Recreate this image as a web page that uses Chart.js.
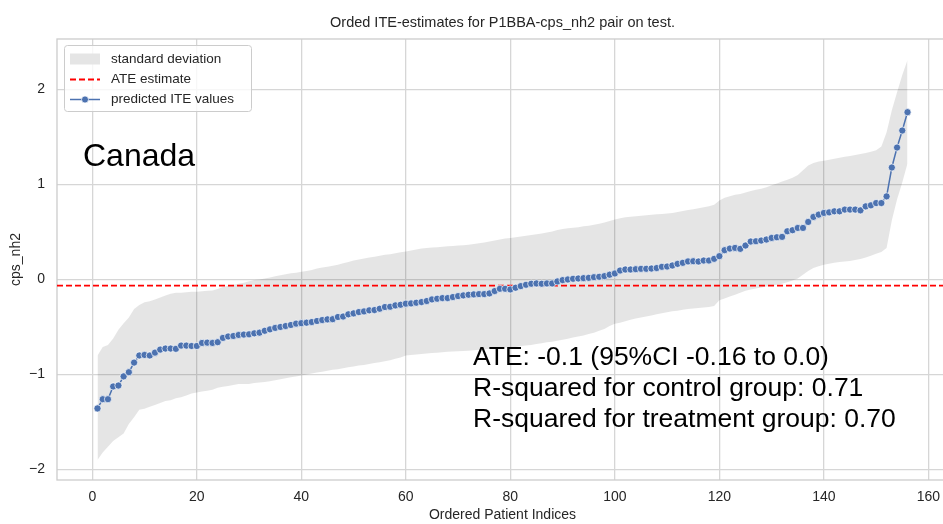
<!DOCTYPE html>
<html>
<head>
<meta charset="utf-8">
<script src="https://cdn.jsdelivr.net/npm/chart.js@4.4.1/dist/chart.umd.min.js"></script>
<style>
html,body{margin:0;padding:0;background:#fff;overflow:hidden;width:943px;height:524px;}
#wrap{position:relative;width:943px;height:524px;overflow:hidden;}
#c{position:absolute;left:0;top:0;}
.note{position:absolute;font-family:'Liberation Sans',Arial,sans-serif;color:#000;white-space:nowrap;line-height:1;}
#title{position:absolute;left:0;width:1005px;text-align:center;top:15px;font-family:'Liberation Sans',Arial,sans-serif;font-size:14.5px;line-height:1;color:#262626;white-space:nowrap;}
</style>
</head>
<body>
<div id="wrap">
<canvas id="c" width="960" height="524"></canvas>
<div id="title">Orded ITE-estimates for P1BBA-cps_nh2 pair on test.</div>
<div class="note" style="left:83px;top:139px;font-size:32px;">Canada</div>
<div class="note" style="left:473px;top:343px;font-size:26.5px;">ATE: -0.1 (95%CI -0.16 to 0.0)</div>
<div class="note" style="left:473px;top:374px;font-size:26.5px;">R-squared for control group: 0.71</div>
<div class="note" style="left:473px;top:405px;font-size:26.5px;">R-squared for treatment group: 0.70</div>
</div>
<script>
// ---- data ----
const iteValues = [
-1.357,-1.26,-1.26,-1.126,-1.116,-1.02,-0.976,-0.875,-0.80,-0.794,
-0.80,-0.77,-0.738,-0.727,-0.727,-0.73,-0.696,-0.696,-0.70,-0.70,
-0.668,-0.665,-0.668,-0.66,-0.615,-0.60,-0.595,-0.584,-0.58,-0.577,
-0.567,-0.56,-0.54,-0.525,-0.51,-0.50,-0.49,-0.479,-0.465,-0.46,
-0.455,-0.448,-0.437,-0.427,-0.42,-0.418,-0.395,-0.39,-0.367,-0.357,
-0.343,-0.336,-0.325,-0.322,-0.308,-0.29,-0.287,-0.273,-0.266,-0.255,
-0.252,-0.245,-0.238,-0.227,-0.21,-0.203,-0.196,-0.196,-0.185,-0.175,
-0.168,-0.161,-0.157,-0.154,-0.154,-0.147,-0.122,-0.098,-0.098,-0.105,
-0.087,-0.07,-0.056,-0.045,-0.042,-0.045,-0.042,-0.042,-0.021,-0.007,
0.0,0.007,0.01,0.014,0.017,0.024,0.028,0.035,0.05,0.063,
0.094,0.105,0.105,0.108,0.112,0.112,0.115,0.12,0.133,0.136,
0.147,0.164,0.175,0.19,0.192,0.189,0.199,0.199,0.217,0.245,
0.308,0.325,0.332,0.322,0.357,0.399,0.402,0.409,0.42,0.437,
0.444,0.448,0.507,0.518,0.542,0.542,0.605,0.658,0.682,0.70,
0.706,0.717,0.717,0.735,0.735,0.735,0.727,0.769,0.78,0.804,
0.804,0.874,1.178,1.388,1.567,1.76
];
const sdUpper = [
-0.80,-0.71,-0.69,-0.62,-0.53,-0.46,-0.40,-0.31,-0.27,-0.24,
-0.23,-0.21,-0.19,-0.17,-0.15,-0.14,-0.14,-0.135,-0.13,-0.13,
-0.125,-0.12,-0.115,-0.10,-0.08,-0.065,-0.055,-0.045,-0.035,-0.02,
-0.007,0.0,0.01,0.02,0.035,0.045,0.055,0.065,0.07,0.08,
0.09,0.10,0.115,0.125,0.135,0.145,0.155,0.17,0.185,0.20,
0.21,0.22,0.23,0.24,0.25,0.26,0.265,0.275,0.285,0.295,
0.305,0.315,0.325,0.33,0.335,0.34,0.345,0.35,0.352,0.357,
0.36,0.365,0.372,0.38,0.39,0.40,0.41,0.42,0.43,0.437,
0.445,0.452,0.46,0.468,0.475,0.483,0.495,0.505,0.52,0.53,
0.54,0.545,0.55,0.56,0.565,0.575,0.585,0.60,0.615,0.63,
0.645,0.655,0.66,0.665,0.67,0.675,0.68,0.685,0.69,0.695,
0.70,0.71,0.72,0.73,0.74,0.75,0.76,0.77,0.785,0.83,
0.86,0.875,0.89,0.90,0.915,0.93,0.945,0.955,0.97,0.99,
1.01,1.03,1.05,1.07,1.10,1.15,1.20,1.225,1.24,1.25,
1.26,1.27,1.28,1.29,1.30,1.31,1.32,1.33,1.345,1.36,
1.40,1.55,1.78,1.97,2.15,2.31
];
const sdLower = [
-1.90,-1.82,-1.76,-1.70,-1.66,-1.62,-1.52,-1.45,-1.37,-1.36,
-1.34,-1.32,-1.30,-1.28,-1.27,-1.25,-1.24,-1.22,-1.20,-1.19,
-1.18,-1.17,-1.16,-1.14,-1.13,-1.12,-1.11,-1.10,-1.10,-1.10,
-1.09,-1.085,-1.08,-1.07,-1.06,-1.05,-1.04,-1.03,-1.02,-1.01,
-1.00,-0.99,-0.98,-0.97,-0.96,-0.95,-0.945,-0.935,-0.925,-0.915,
-0.905,-0.90,-0.89,-0.88,-0.87,-0.86,-0.85,-0.835,-0.82,-0.80,
-0.795,-0.79,-0.785,-0.78,-0.775,-0.77,-0.765,-0.76,-0.757,-0.755,
-0.752,-0.75,-0.745,-0.74,-0.735,-0.73,-0.725,-0.72,-0.717,-0.715,
-0.71,-0.70,-0.695,-0.69,-0.68,-0.67,-0.66,-0.655,-0.645,-0.635,
-0.625,-0.61,-0.60,-0.59,-0.575,-0.56,-0.54,-0.52,-0.49,-0.465,
-0.455,-0.44,-0.425,-0.41,-0.40,-0.39,-0.38,-0.365,-0.355,-0.345,
-0.335,-0.33,-0.32,-0.31,-0.305,-0.30,-0.295,-0.29,-0.28,-0.22,
-0.20,-0.18,-0.16,-0.14,-0.12,-0.105,-0.095,-0.085,-0.075,-0.065,
-0.055,-0.045,-0.03,-0.01,0.01,0.05,0.09,0.12,0.14,0.155,
0.165,0.175,0.185,0.19,0.195,0.205,0.215,0.23,0.25,0.27,
0.29,0.33,0.62,0.84,1.02,1.22
];
const ateEstimate = -0.065;
const xTickValues = [0, 20, 40, 60, 80, 100, 120, 140, 160];
const xTickLabels = ['0', '20', '40', '60', '80', '100', '120', '140', '160'];
const yTickValues = [-2, -1, 0, 1, 2];
const yTickLabels = ['\u22122', '\u22121', '0', '1', '2'];
const legendLabels = ['standard deviation', 'ATE estimate', 'predicted ITE values'];
const xLimits = [-6.75, 163.75];
const yLimits = [-2.11, 2.53];
const xTitle = 'Ordered Patient Indices';
const yTitle = 'cps_nh2';

// ---- build chart ----
const patientIndex = iteValues.map((_, k) => k + 1);
const toXY = arr => arr.map((v, k) => ({x: patientIndex[k], y: v}));

const BLUE = '#4c72b0';
const BAND = 'rgba(0,0,0,0.1)';
const GRID = '#d6d6d6';
const TXT = '#262626';
const FONT = "'Liberation Sans', Arial, sans-serif";

const framePlugin = {
  id: 'frame',
  beforeDatasetsDraw(chart) {
    const {ctx, chartArea: a} = chart;
    ctx.save();
    ctx.strokeStyle = '#cccccc';
    ctx.lineWidth = 1.3;
    ctx.strokeRect(a.left, a.top, a.right - a.left, a.bottom - a.top);
    ctx.restore();
  }
};

const legendPlugin = {
  id: 'boxLegend',
  afterDatasetsDraw(chart) {
    const ctx = chart.ctx;
    ctx.save();
    const bx = 64.5, by = 45.5, bw = 187, bh = 66, r = 3;
    ctx.beginPath();
    ctx.moveTo(bx + r, by);
    ctx.arcTo(bx + bw, by, bx + bw, by + bh, r);
    ctx.arcTo(bx + bw, by + bh, bx, by + bh, r);
    ctx.arcTo(bx, by + bh, bx, by, r);
    ctx.arcTo(bx, by, bx + bw, by, r);
    ctx.closePath();
    ctx.fillStyle = 'rgba(255,255,255,0.8)';
    ctx.fill();
    ctx.strokeStyle = '#cccccc';
    ctx.lineWidth = 1;
    ctx.stroke();

    const rows = [59, 79.5, 99.5];
    ctx.fillStyle = '#e5e5e5';
    ctx.fillRect(70, 53.5, 30, 11);
    ctx.beginPath();
    ctx.setLineDash([6, 3]);
    ctx.strokeStyle = 'red';
    ctx.lineWidth = 1.8;
    ctx.moveTo(70, rows[1]);
    ctx.lineTo(100, rows[1]);
    ctx.stroke();
    ctx.setLineDash([]);
    ctx.beginPath();
    ctx.strokeStyle = BLUE;
    ctx.lineWidth = 1.5;
    ctx.moveTo(70, rows[2]);
    ctx.lineTo(100, rows[2]);
    ctx.stroke();
    ctx.beginPath();
    ctx.arc(85, rows[2], 3.5, 0, Math.PI * 2);
    ctx.fillStyle = BLUE;
    ctx.fill();
    ctx.strokeStyle = '#fff';
    ctx.lineWidth = 0.7;
    ctx.stroke();

    ctx.fillStyle = TXT;
    ctx.font = '13.5px ' + FONT;
    ctx.textBaseline = 'middle';
    ctx.textAlign = 'left';
    legendLabels.forEach((t, i) => ctx.fillText(t, 111, rows[i]));
    ctx.restore();
  }
};

new Chart(document.getElementById('c'), {
  type: 'line',
  data: {
    datasets: [
      {
        label: legendLabels[2],
        data: toXY(iteValues),
        borderColor: BLUE,
        backgroundColor: BLUE,
        borderWidth: 1.5,
        pointRadius: 3.6,
        pointBackgroundColor: BLUE,
        pointBorderColor: '#ffffff',
        pointBorderWidth: 0.7,
        fill: false,
        tension: 0,
        order: 0
      },
      {
        label: legendLabels[1],
        data: [{x: xLimits[0], y: ateEstimate}, {x: xLimits[1], y: ateEstimate}],
        borderColor: '#ff0000',
        borderWidth: 1.8,
        borderDash: [6, 3],
        pointRadius: 0,
        fill: false,
        order: 1
      },
      {
        label: 'lower',
        data: toXY(sdLower),
        borderWidth: 0,
        borderColor: 'rgba(0,0,0,0)',
        pointRadius: 0,
        fill: false,
        order: 3
      },
      {
        label: legendLabels[0],
        data: toXY(sdUpper),
        borderWidth: 0,
        borderColor: 'rgba(0,0,0,0)',
        backgroundColor: BAND,
        pointRadius: 0,
        fill: '-1',
        order: 2
      }
    ]
  },
  options: {
    responsive: false,
    animation: false,
    devicePixelRatio: 1,
    layout: {padding: {left: 0, right: 12, top: 39, bottom: 0}},
    plugins: {
      legend: {display: false},
      title: {display: false},
      tooltip: {enabled: false}
    },
    scales: {
      x: {
        type: 'linear',
        min: xLimits[0],
        max: xLimits[1],
        afterBuildTicks: s => { s.ticks = xTickValues.map(v => ({value: v})); },
        afterFit: s => { s.height = 44; },
        ticks: {
          callback: v => xTickLabels[xTickValues.indexOf(v)],
          color: TXT,
          font: {family: FONT, size: 14},
          padding: 9,
          maxRotation: 0,
          autoSkip: false
        },
        grid: {color: GRID, lineWidth: 1.3, drawTicks: false},
        border: {display: false},
        title: {display: true, text: xTitle, color: TXT, font: {family: FONT, size: 14}, padding: {top: 0, bottom: 0}}
      },
      y: {
        type: 'linear',
        min: yLimits[0],
        max: yLimits[1],
        afterBuildTicks: s => { s.ticks = yTickValues.map(v => ({value: v})); },
        afterFit: s => { s.width = 57; },
        ticks: {
          callback: v => yTickLabels[yTickValues.indexOf(v)],
          color: TXT,
          font: {family: FONT, size: 14},
          padding: 12
        },
        grid: {color: GRID, lineWidth: 1.3, drawTicks: false},
        border: {display: false},
        title: {display: true, text: yTitle, color: TXT, font: {family: FONT, size: 14}, padding: {top: 8, bottom: 0}}
      }
    }
  },
  plugins: [framePlugin, legendPlugin]
});
</script>
</body>
</html>
